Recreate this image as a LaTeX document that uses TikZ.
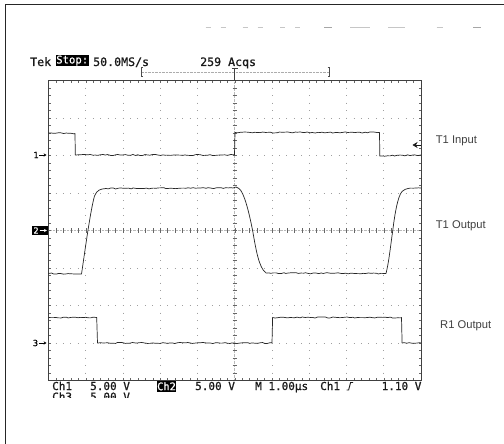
\documentclass[tikz,border=0pt]{standalone}
\usepackage{fontspec}
\usetikzlibrary{decorations.pathmorphing,arrows.meta}
\newfontfamily\scopefont[FakeBold=0.9]{DejaVu Sans Mono}
\newfontfamily\lblfont{Liberation Sans}
\begin{document}
\begin{tikzpicture}[x=1pt,y=-1pt,
  trace/.style={draw=black!85,line width=0.7pt,line join=round},
  noisy/.style={decoration={random steps,segment length=2.5pt,amplitude=0.55pt}},
  griddot/.style={draw=gray!75,line width=0.9pt},
  centerdot/.style={draw=gray!55,line width=0.6pt,dash pattern=on 0.5pt off 0.9pt},
  tick/.style={draw=gray!80!black,line width=0.5pt},
  scopetxt/.style={font=\scopefont\fontsize{11}{13}\selectfont,inner sep=0pt,anchor=base west,text=black!90},
  headtxt/.style={font=\scopefont\fontsize{11.6}{13}\selectfont,inner sep=0pt,anchor=base west,text=black!90},
  inv/.style={fill=black,text=white,inner xsep=0.6pt,inner ysep=0pt,anchor=center},
  lbl/.style={font=\lblfont\fontsize{11.2}{13}\selectfont,text=black!75,inner sep=0pt,anchor=west},
  chmark/.style={font=\scopefont\fontsize{8.5}{10}\selectfont,inner sep=0pt,anchor=center},
  smallarrow/.style={-{Stealth[length=2.8pt,width=3.2pt]},line width=0.5pt},
  topdash/.style={draw=gray!45,line width=1.2pt}
]
\pgfmathsetseed{7}
\useasboundingbox (0,0) rectangle (504,444);
\fill[white] (0,0) rectangle (504,444);
% outer frame (left and top edges)
\draw[line width=1.6pt,black!85] (5.5,444) -- (5.5,4.6) -- (504,4.6);
% faint top dashes
\foreach \a/\b in {205.7/211,220.7/226,242.7/248,257.7/263,280/285.3,295/300.3,350/370,388/405,436.7/442.7}
  \draw[topdash] (\a,27.3) -- (\b,27.3);
\draw[topdash,draw=gray!70] (324,27.3) -- (332,27.3);
\draw[topdash,draw=gray!70] (473,27.3) -- (480.7,27.3);

% header
\node[headtxt] (tek) at (30,66) {Tek};
\node[inv,font=\scopefont\fontsize{10.6}{12}\selectfont,minimum height=11.5pt] (stop) at (72.2,60.6) {Stop:};
\node[headtxt] (rate) at (93,66) {50.0MS/s};
\node[headtxt] (acq) at (200,66) {259 Acqs};
% trigger position bracket
\draw[gray!60!black,line width=0.6pt] (143,67.8) -- (141.3,67.8) -- (141.3,76.6) -- (143,76.6);
\draw[gray!60!black,line width=0.6pt] (327.5,67.8) -- (329.3,67.8) -- (329.3,76.6) -- (327.5,76.6);
\draw[gray!65,line width=0.6pt,dash pattern=on 0.6pt off 0.8pt] (142,72) -- (328.5,72);
\draw[black!75,line width=0.7pt] (231.8,68) -- (237.8,68);
\draw[black!75,line width=0.7pt] (234.75,68) -- (234.75,80.5);

% graticule grid dots
\foreach \i in {1,2,3,4,6,7,8,9}
  \draw[griddot,dash pattern=on 0.9pt off 6.6pt,dash phase=0.45pt] ({48.5+37.25*\i},80.5) -- ({48.5+37.25*\i},380.5);
\foreach \j in {1,2,3,5,6,7}
  \draw[griddot,dash pattern=on 0.9pt off 6.55pt,dash phase=0.45pt] (48.5,{80.5+37.5*\j}) -- (421,{80.5+37.5*\j});
% centre lines
\draw[centerdot] (234.75,80.5) -- (234.75,380.5);
\draw[centerdot] (48.5,230.5) -- (421,230.5);
\foreach \k in {1,...,39}{
  \draw[tick] (232.6,{80.5+7.5*\k}) -- (236.9,{80.5+7.5*\k});
  \draw[tick] (48.5,{80.5+7.5*\k}) -- (51,{80.5+7.5*\k});
  \draw[tick] (421,{80.5+7.5*\k}) -- (418.5,{80.5+7.5*\k});
}
\foreach \k in {1,...,49}{
  \draw[tick] ({48.5+7.45*\k},228.4) -- ({48.5+7.45*\k},232.6);
  \draw[tick] ({48.5+7.45*\k},80.5) -- ({48.5+7.45*\k},83);
  \draw[tick] ({48.5+7.45*\k},380.5) -- ({48.5+7.45*\k},378);
}
% graticule border
\draw[gray!50!black,line width=0.8pt] (48.5,80.5) rectangle (421,380.5);

% channel markers
\node[chmark] (m1) at (36,155) {1};
\coordinate (m1a) at (39.3,155); \coordinate (m1b) at (46.5,155);
\draw[smallarrow] (m1a) -- (m1b);
\node[fill=black,minimum width=16pt,minimum height=9.5pt,inner sep=0pt] (m2box) at (40.3,230.5) {};
\node[chmark,text=white] (m2) at (36,230.5) {2};
\coordinate (m2a) at (39.5,230.5); \coordinate (m2b) at (46.8,230.5);
\draw[smallarrow,white] (m2a) -- (m2b);
\node[chmark] (m3) at (35.5,343) {3};
\coordinate (m3a) at (39.3,343); \coordinate (m3b) at (46.5,343);
\draw[smallarrow] (m3a) -- (m3b);
% trigger level marker
\coordinate (tl) at (421,145); \coordinate (tlh) at (412.5,145);
\draw[-{Stealth[length=5pt,width=6pt]},line width=0.7pt,black!90] (tl) -- (tlh);

% traces
\draw[trace] (48.5,133) decorate[noisy]{-- (75,133.5)} -- (75.3,155)
  decorate[noisy]{-- (234.5,155)} -- (235,132.5)
  decorate[noisy]{-- (379.5,132.5)} -- (379.8,156)
  decorate[noisy]{-- (421,155)};
\draw[trace] (48.5,273.5) decorate[noisy]{-- (81.5,274)}
  .. controls (84,258) and (90,212) .. (94.5,196)
  .. controls (97,190) and (100,189) .. (106,188.5)
  decorate[noisy]{-- (233,188)} -- (236,187) -- (239,188.5)
  .. controls (244,192) and (249,212) .. (252.7,231)
  .. controls (256,250) and (259,268) .. (266,273)
  decorate[noisy]{-- (386,273.5)}
  .. controls (389,262) and (391,242) .. (392.7,231)
  .. controls (395,212) and (398,196) .. (402,191.5)
  .. controls (404,189.5) and (406,189) .. (408,188.5)
  decorate[noisy]{-- (421,188)};
\draw[trace] (48.5,317.5) decorate[noisy]{-- (96.7,317.5)} -- (97.5,343)
  decorate[noisy]{-- (272,343)} -- (272.6,317.5)
  decorate[noisy]{-- (401.5,317.5)} -- (402.1,343)
  decorate[noisy]{-- (421,343)};

% right labels
\node[lbl] (l1) at (435.7,141) {T1 Input};
\node[lbl] (l2) at (435.7,226) {T1 Output};
\node[lbl] (l3) at (440,325.7) {R1 Output};

% bottom readout
\node[scopetxt] (c1) at (52,390) {Ch1};
\node[scopetxt] (v1) at (90,390) {5.00 V};
\node[inv,font=\scopefont\fontsize{10.4}{12}\selectfont,minimum height=10.5pt] (c2) at (166.5,386.3) {Ch2};
\node[scopetxt] (v2) at (195,390) {5.00 V};
\node[scopetxt] (tb) at (255,390) {M 1.00µs};
\node[scopetxt] (tc) at (320,390) {Ch1};
\draw[black!90,line width=0.9pt] (346.5,390) -- (348.6,390) -- (350.6,382.5) -- (353,382.5);
\node[scopetxt] (tv) at (381.5,390) {1.10 V};
\begin{scope}
\clip (0,391.5) rectangle (504,397.6);
\node[scopetxt] (c3) at (52,400.7) {Ch3};
\node[scopetxt] (v3) at (90,400.7) {5.00 V};
\end{scope}
\end{tikzpicture}
\end{document}
